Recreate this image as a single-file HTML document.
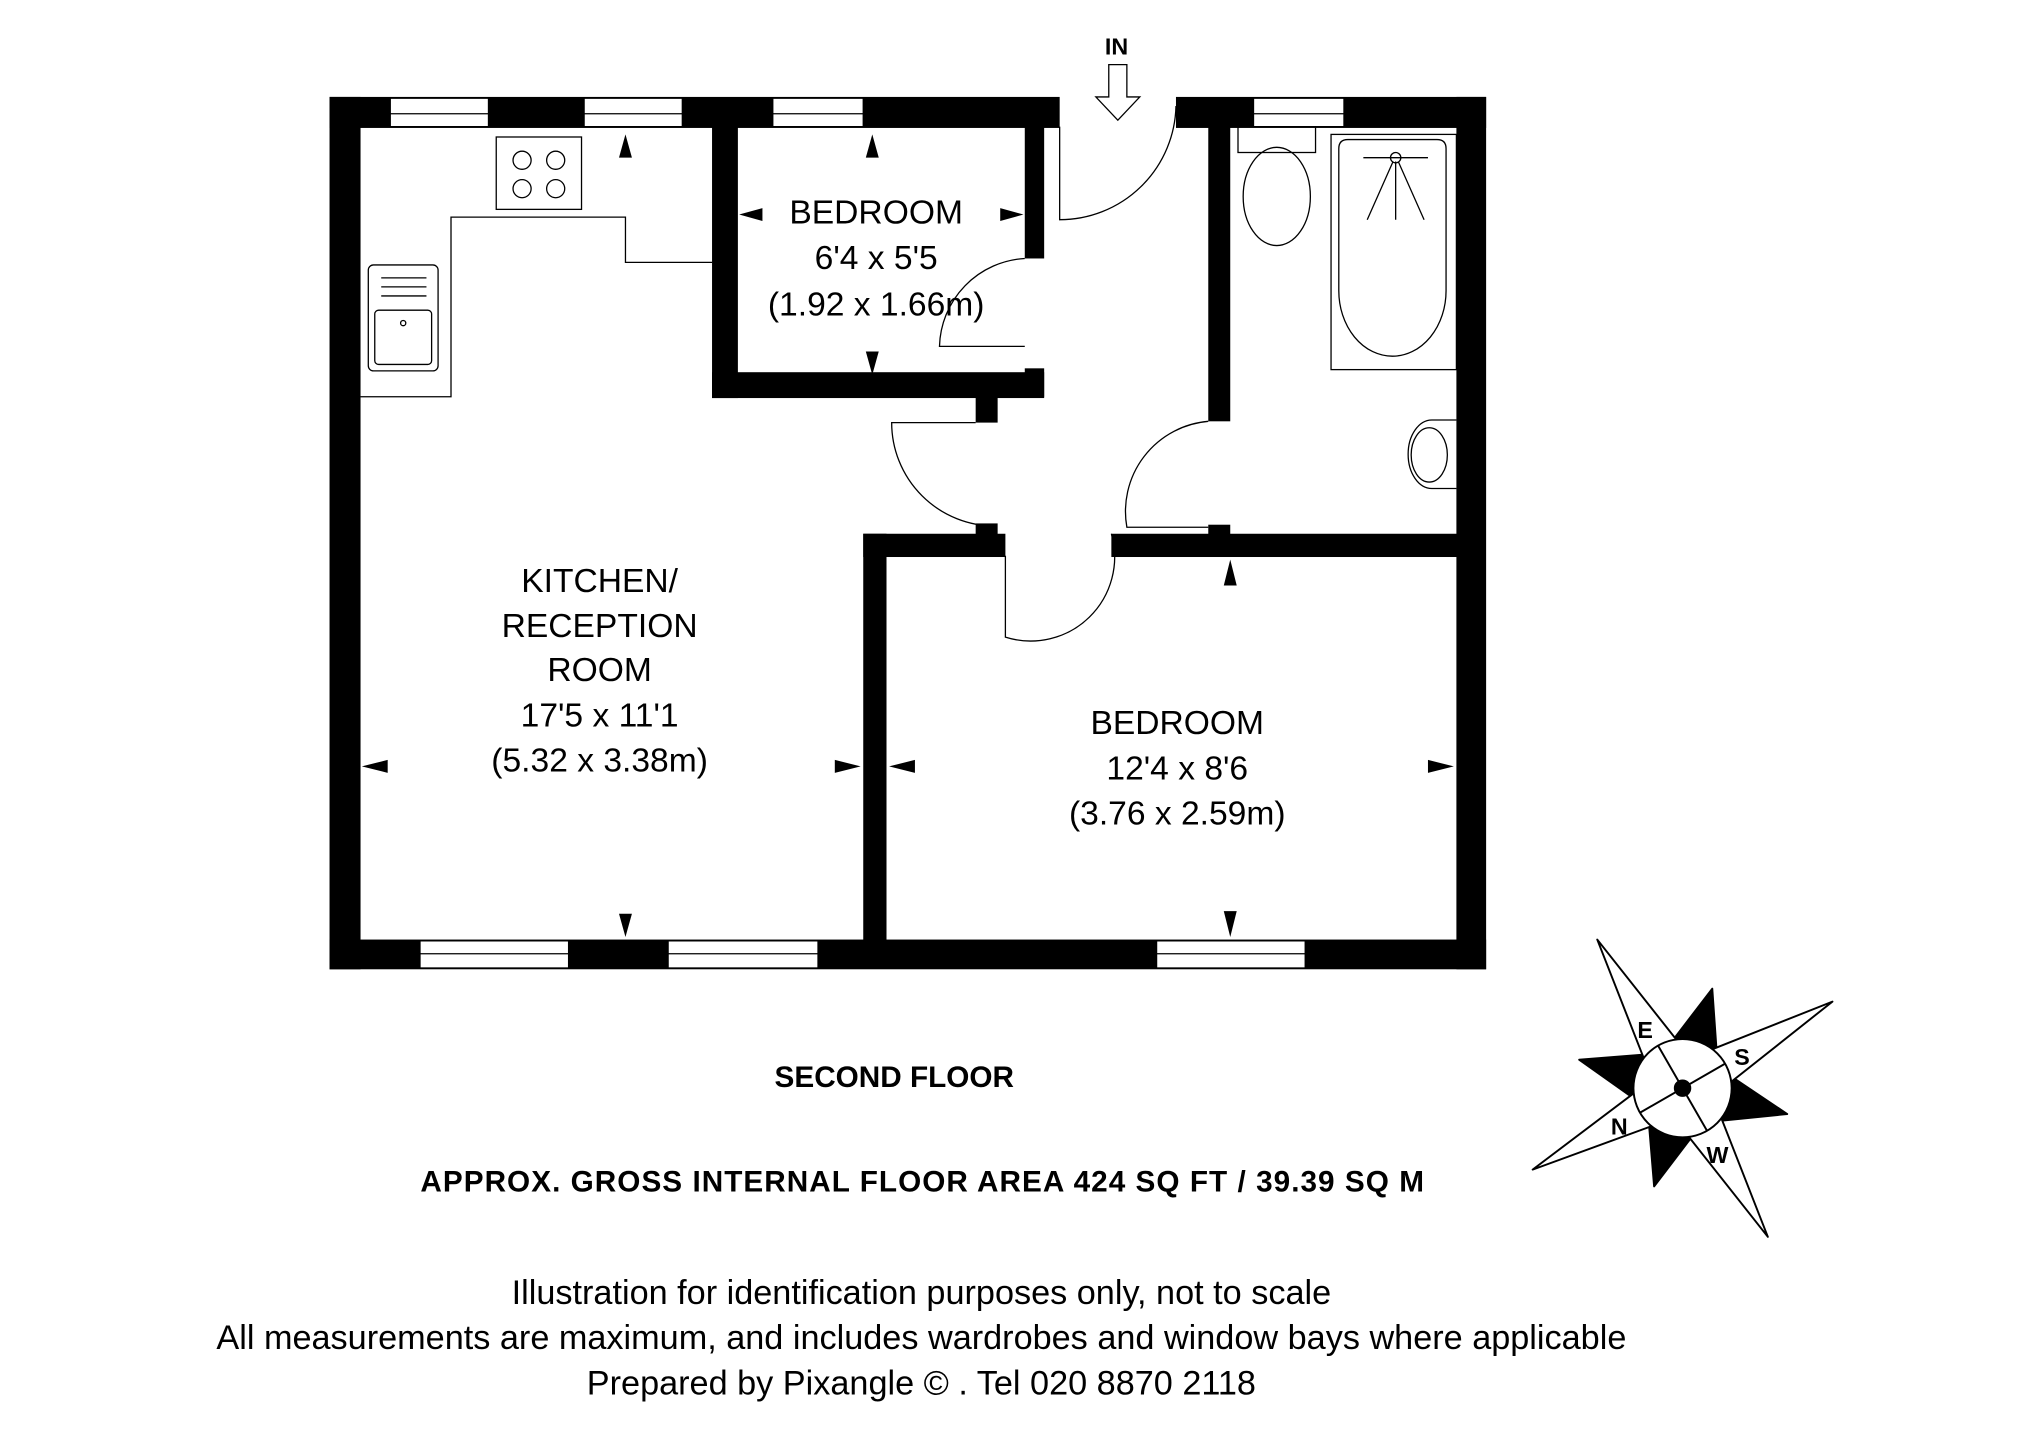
<!DOCTYPE html>
<html><head><style>html,body{margin:0;padding:0;background:#fff}svg{display:block}</style></head><body>
<svg width="2025" height="1441" viewBox="0 0 1567 1115" preserveAspectRatio="none" xmlns="http://www.w3.org/2000/svg" font-family="Liberation Sans, sans-serif">
<rect width="1567" height="1115" fill="#fff"/>
<g fill="#000">
<rect x="255" y="75" width="565" height="24"/>
<rect x="910" y="75" width="240" height="24"/>
<rect x="255" y="75" width="24" height="675"/>
<rect x="1127" y="75" width="23" height="675"/>
<rect x="255" y="727" width="895" height="23"/>
<rect x="551" y="98" width="20" height="210"/>
<rect x="551" y="288" width="257" height="20"/>
<rect x="793" y="98" width="15" height="102"/>
<rect x="793" y="285" width="15" height="22"/>
<rect x="755" y="307" width="17" height="20"/>
<rect x="935" y="98" width="17" height="228"/>
<rect x="935" y="406" width="17" height="10"/>
<rect x="860" y="413" width="270" height="18"/>
<rect x="668" y="413" width="110" height="18"/>
<rect x="755" y="405" width="17" height="10"/>
<rect x="668" y="413" width="18" height="316"/>
</g>
<g fill="#fff" stroke="#000" stroke-width="1">
<rect x="302" y="76" width="76" height="22"/><line x1="302" y1="88" x2="378" y2="88"/>
<rect x="452" y="76" width="76" height="22"/><line x1="452" y1="88" x2="528" y2="88"/>
<rect x="598" y="76" width="70" height="22"/><line x1="598" y1="88" x2="668" y2="88"/>
<rect x="970" y="76" width="70" height="22"/><line x1="970" y1="88" x2="1040" y2="88"/>
<rect x="325" y="728" width="115" height="21"/><line x1="325" y1="738" x2="440" y2="738"/>
<rect x="517" y="728" width="116" height="21"/><line x1="517" y1="738" x2="633" y2="738"/>
<rect x="895" y="728" width="115" height="21"/><line x1="895" y1="738" x2="1010" y2="738"/>
</g>
<g fill="none" stroke="#000" stroke-width="1">
<path d="M820 98 V170 A90 90 0 0 0 910 82"/>
<path d="M793 200 A70 70 0 0 0 727 268 H793"/>
<path d="M755 327 H690 A80 80 0 0 0 770 407"/>
<path d="M935 326 A70 70 0 0 0 872 408 H935"/>
<path d="M778 430 V493 A65 65 0 0 0 860 413"/>
<path d="M279 307 H349 V168 H484 V203 H551"/>
<rect x="384" y="106" width="66" height="56"/>
<circle cx="404" cy="124" r="7"/><circle cx="430" cy="124" r="7"/><circle cx="404" cy="146" r="7"/><circle cx="430" cy="146" r="7"/>
<rect x="285" y="205" width="54" height="82" rx="4"/>
<rect x="290" y="240" width="44" height="42" rx="3"/>
<path d="M295 215 H330 M295 222 H330 M295 229 H330"/>
<circle cx="312" cy="250" r="2"/>
<rect x="958" y="98" width="60" height="20"/>
<ellipse cx="988" cy="152" rx="26" ry="38"/>
<rect x="1030" y="104" width="97" height="182"/>
<path d="M1036 115 Q1036 108 1043 108 H1112 Q1119 108 1119 115 V225 A41 50 0 0 1 1036 225 Z"/>
<path d="M1055 122 H1105 M1080 125 V170 M1078 125 L1058 170 M1082 125 L1102 170"/>
<circle cx="1080" cy="122" r="4"/>
<path d="M1127 325 H1108 A18 26 0 0 0 1108 378 H1127"/>
<ellipse cx="1106" cy="352" rx="14" ry="21"/>
<path d="M858 50 H872 V75 H882 L865 93 L848 75 H858 Z"/>
</g>
<g fill="#000">
<path d="M484 104 L479 122 H489Z"/><path d="M484 725 L479 707 H489Z"/>
<path d="M280 593 L300 588 V598Z"/><path d="M666 593 L646 588 V598Z"/>
<path d="M675 104 L670 122 H680Z"/><path d="M675 290 L670 272 H680Z"/>
<path d="M572 166 L590 161 V171Z"/><path d="M792 166 L774 161 V171Z"/>
<path d="M952 433 L947 453 H957Z"/><path d="M952 725 L947 705 H957Z"/>
<path d="M688 593 L708 588 V598Z"/><path d="M1125 593 L1105 588 V598Z"/>
</g>
<g font-size="26" text-anchor="middle" fill="#000">
<text x="678" y="173">BEDROOM</text><text x="678" y="208">6'4 x 5'5</text><text x="678" y="244">(1.92 x 1.66m)</text>
<text x="464" y="458">KITCHEN/</text><text x="464" y="493">RECEPTION</text><text x="464" y="527">ROOM</text><text x="464" y="562">17'5 x 11'1</text><text x="464" y="597">(5.32 x 3.38m)</text>
<text x="911" y="568">BEDROOM</text><text x="911" y="603">12'4 x 8'6</text><text x="911" y="638">(3.76 x 2.59m)</text>
<text x="713" y="1009" font-size="26.5">Illustration for identification purposes only, not to scale</text>
<text x="713" y="1044" font-size="26.5">All measurements are maximum, and includes wardrobes and window bays where applicable</text>
<text x="713" y="1079" font-size="26.5">Prepared by Pixangle ©  . Tel 020 8870 2118</text>
</g>
<g font-size="22" font-weight="bold" text-anchor="middle" fill="#000">
<text x="864" y="42" font-size="18">IN</text>
<text x="692" y="841" font-size="23">SECOND FLOOR</text>
<text x="714" y="922" font-size="23" letter-spacing="0.8">APPROX. GROSS INTERNAL FLOOR AREA 424 SQ FT / 39.39  SQ M</text>
</g>
<g stroke="#000" stroke-width="1.5" stroke-linejoin="round">
<path d="M1325 765 L1331 851 L1273 833 Z" fill="#000"/>
<path d="M1280 918 L1331 851 L1273 833 Z" fill="#000"/>
<path d="M1383 862 L1310 813 L1294 871 Z" fill="#000"/>
<path d="M1222 820 L1310 813 L1294 871 Z" fill="#000"/>
<path d="M1236 727 L1319 832 L1285 852 Z" fill="#fff"/>
<path d="M1368 957 L1319 832 L1285 852 Z" fill="#fff"/>
<path d="M1418 775 L1312 859 L1292 825 Z" fill="#fff"/>
<path d="M1186 905 L1312 859 L1292 825 Z" fill="#fff"/>
<circle cx="1302" cy="842" r="38" fill="#fff"/>
<path d="M1283 809 L1321 875 M1269 861 L1335 823"/>
<circle cx="1302" cy="842" r="6" fill="#000"/>
</g>
<g font-size="18" font-weight="bold" text-anchor="middle" fill="#000">
<text x="1273" y="803">E</text><text x="1348" y="824">S</text><text x="1253" y="878">N</text><text x="1329" y="900">W</text>
</g>
</svg>
</body></html>
